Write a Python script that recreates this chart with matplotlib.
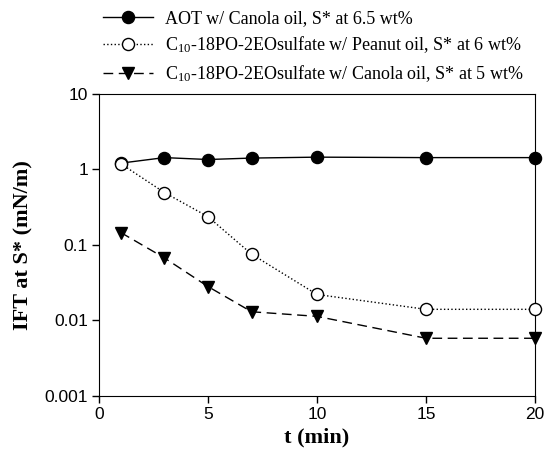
import matplotlib
matplotlib.use('Agg')
import matplotlib.pyplot as plt

# Data
t = [1, 3, 5, 7, 10, 15, 20]
ift_aot_canola = [1.2, 1.42, 1.34, 1.4, 1.44, 1.42, 1.42]
ift_c10_peanut = [1.18, 0.49, 0.235, 0.075, 0.022, 0.014, 0.014]
ift_c10_canola = [0.145, 0.067, 0.028, 0.013, 0.0113, 0.0058, 0.0058]

labels = ['AOT w/ Canola oil, S* at 6.5 wt%',
          'C$\\mathregular{_{10}}$-18PO-2EOsulfate w/ Peanut oil, S* at 6 wt%',
          'C$\\mathregular{_{10}}$-18PO-2EOsulfate w/ Canola oil, S* at 5 wt%']
xticks = [0, 5, 10, 15, 20]
yticks = [0.001, 0.01, 0.1, 1, 10]
yticklabels = ['0.001', '0.01', '0.1', '1', '10']

plt.rcParams['mathtext.fontset'] = 'custom'
plt.rcParams['mathtext.rm'] = 'Liberation Serif'

W, H = 547, 455
fig = plt.figure(figsize=(W / 100, H / 100), dpi=100)
ax = fig.add_axes([99 / W, 59 / H, 436 / W, 302.5 / H])

l1, = ax.plot(t, ift_aot_canola, '-', color='black', lw=1,
              marker='o', ms=8.7, mfc='black', mec='black', clip_on=False, zorder=3)
l2, = ax.plot(t, ift_c10_peanut, ':', color='black', lw=1,
              marker='o', ms=8.7, mfc='white', mec='black', clip_on=False, zorder=4)
l3, = ax.plot(t, ift_c10_canola, '--', color='black', lw=1, dashes=(7, 4),
              marker='v', ms=9, mfc='black', mec='black', clip_on=False, zorder=3)

ax.set_yscale('log')
ax.set_xlim(0, 20)
ax.set_ylim(0.001, 10)
ax.set_xticks(xticks)
ax.set_xticklabels([str(v) for v in xticks], family='Liberation Sans', fontsize=12.5)
ax.set_yticks(yticks)
ax.set_yticklabels(yticklabels, family='Liberation Sans', fontsize=12.5)
ax.minorticks_off()
ax.tick_params(direction='out', length=5, width=1, pad=3)

ax.set_xlabel('t (min)', family='Liberation Serif', fontweight='bold', fontsize=16, labelpad=4)
ax.set_ylabel('IFT at S* (mN/m)', family='Liberation Serif', fontweight='bold', fontsize=16, labelpad=8)


# legend: fit font size so the last label is ~358 px wide like the reference
def make_legend(size):
    px = size * 100 / 72
    return fig.legend([l1, l2, l3], labels, loc='upper left',
                      bbox_to_anchor=(103 / W, 1 - 10 / H),
                      frameon=False, prop={'family': 'Liberation Serif', 'size': size},
                      handlelength=50 / px, handletextpad=12 / px,
                      borderpad=0, borderaxespad=0, labelspacing=0.42)


size = 12.5
leg = make_legend(size)
for _ in range(3):
    fig.canvas.draw()
    w = leg.get_texts()[2].get_window_extent().width
    leg.remove()
    size *= 358 / w
    leg = make_legend(size)

fig.savefig('out.png', dpi=100)
